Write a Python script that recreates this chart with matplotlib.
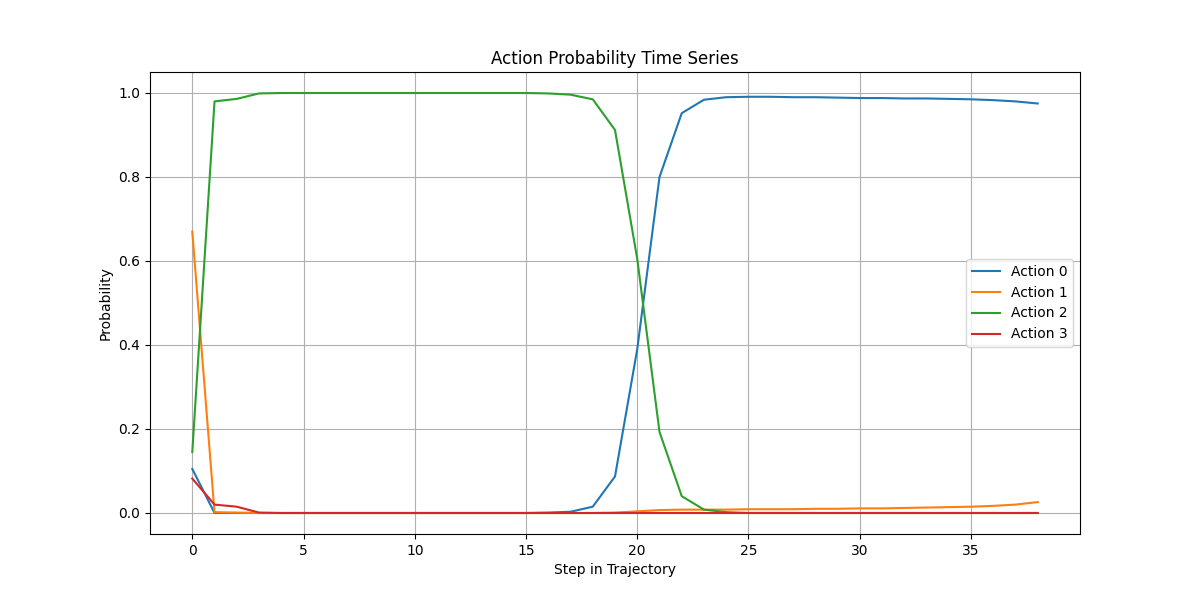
import matplotlib
matplotlib.use("Agg")
import matplotlib.pyplot as plt
import numpy as np

steps = np.arange(39)
action0 = [0.105, 0.0, 0.0, 0.0, 0.0, 0.0, 0.0, 0.0, 0.0, 0.0,
           0.0, 0.0, 0.0, 0.0, 0.0, 0.0, 0.001, 0.003, 0.015, 0.087,
           0.39, 0.80, 0.952, 0.984, 0.990, 0.991, 0.991, 0.990, 0.990, 0.989,
           0.988, 0.988, 0.987, 0.987, 0.986, 0.985, 0.983, 0.980, 0.975]
action1 = [0.67, 0.002, 0.001, 0.0, 0.0, 0.0, 0.0, 0.0, 0.0, 0.0,
           0.0, 0.0, 0.0, 0.0, 0.0, 0.0, 0.0, 0.0, 0.0, 0.001,
           0.004, 0.007, 0.008, 0.008, 0.008, 0.009, 0.009, 0.009, 0.010, 0.010,
           0.011, 0.011, 0.012, 0.013, 0.014, 0.015, 0.017, 0.020, 0.026]
action2 = [0.145, 0.980, 0.986, 0.999, 1.0, 1.0, 1.0, 1.0, 1.0, 1.0,
           1.0, 1.0, 1.0, 1.0, 1.0, 1.0, 0.999, 0.996, 0.985, 0.912,
           0.605, 0.193, 0.040, 0.008, 0.002, 0.0, 0.0, 0.0, 0.0, 0.0,
           0.0, 0.0, 0.0, 0.0, 0.0, 0.0, 0.0, 0.0, 0.0]
action3 = [0.082, 0.020, 0.015, 0.001] + [0.0] * 35

fig = plt.figure(figsize=(12, 6), dpi=100)
for i, s in enumerate([action0, action1, action2, action3]):
    plt.plot(steps, s, label=f'Action {i}')
plt.title('Action Probability Time Series')
plt.xlabel('Step in Trajectory')
plt.ylabel('Probability')
plt.legend(loc='center right')
plt.grid(True)
plt.savefig('out.png')
